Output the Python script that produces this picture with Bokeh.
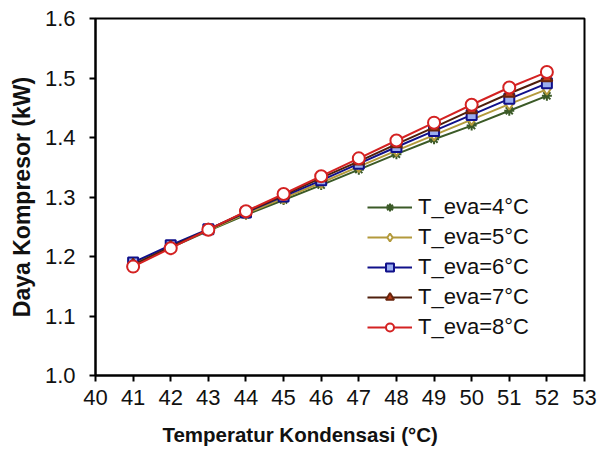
from bokeh.plotting import figure
from bokeh.models import Range1d, FixedTicker, PrintfTickFormatter, Legend
from bokeh.embed import file_html
from bokeh.resources import INLINE

t_kond = [41, 42, 43, 44, 45, 46, 47, 48, 49, 50, 51, 52]
eva4 = [1.188, 1.215, 1.243, 1.270, 1.295, 1.320, 1.346, 1.372, 1.397, 1.420, 1.445, 1.470]
eva5 = [1.188, 1.217, 1.244, 1.272, 1.298, 1.324, 1.351, 1.378, 1.404, 1.430, 1.456, 1.481]
eva6 = [1.190, 1.219, 1.246, 1.274, 1.301, 1.328, 1.356, 1.384, 1.411, 1.438, 1.465, 1.491]
eva7 = [1.186, 1.216, 1.245, 1.275, 1.303, 1.332, 1.360, 1.389, 1.417, 1.446, 1.474, 1.500]
eva8 = [1.183, 1.214, 1.245, 1.276, 1.305, 1.335, 1.365, 1.395, 1.425, 1.455, 1.484, 1.510]
labels = ["T_eva=4°C", "T_eva=5°C", "T_eva=6°C", "T_eva=7°C", "T_eva=8°C"]
x_ticks = list(range(40, 54))
y_ticks = [1.0, 1.1, 1.2, 1.3, 1.4, 1.5, 1.6]

FONT = "Liberation Sans"

p = figure(width=598, height=448, output_backend="svg", toolbar_location=None,
           x_range=Range1d(40, 53), y_range=Range1d(1.0, 1.6),
           min_border_left=95, min_border_right=14, min_border_top=18, min_border_bottom=73)
p.background_fill_color = "white"
p.border_fill_color = "white"
p.outline_line_color = "black"
p.outline_line_width = 2
p.xgrid.visible = False
p.ygrid.visible = False

for ax in (p.xaxis[0], p.yaxis[0]):
    ax.axis_line_width = 2
    ax.axis_line_color = "black"
    ax.major_tick_line_width = 2
    ax.major_tick_line_color = "black"
    ax.major_tick_out = 6
    ax.major_tick_in = 0
    ax.minor_tick_out = 0
    ax.minor_tick_in = 0
    ax.major_label_text_font = FONT
    ax.major_label_text_font_size = "22px"
    ax.major_label_text_color = "#111111"
    ax.axis_label_text_font = FONT
    ax.axis_label_text_font_style = "bold"
    ax.axis_label_text_color = "#111111"

p.xaxis.ticker = FixedTicker(ticks=x_ticks)
p.yaxis.ticker = FixedTicker(ticks=y_ticks)
p.yaxis.formatter = PrintfTickFormatter(format="%.1f")
p.yaxis.axis_label = "Daya Kompresor (kW)"
p.yaxis.axis_label_text_font_size = "23px"
p.xaxis.axis_label = "Temperatur Kondensasi  (°C)" + "\u00a0" * 13
p.xaxis.axis_label_text_font_size = "20.5px"
p.xaxis.major_label_standoff = 8
p.yaxis.major_label_standoff = 14
p.xaxis.axis_label_standoff = 15
p.yaxis.axis_label_standoff = 7

items = []
series = [eva4, eva5, eva6, eva7, eva8]
styles = [
    dict(line="#3b5a27", marker="asterisk", fill="#3b5a27", edge="#3b5a27", size=10),
    dict(line="#b39a3c", marker="diamond", fill="white", edge="#b39a3c", size=11),
    dict(line="#10108a", marker="square", fill="#9aaef0", edge="#10108a", size=10),
    dict(line="#4e1f0c", marker="triangle", fill="#c2401c", edge="#6a240c", size=11),
    dict(line="#d42222", marker="circle", fill="white", edge="#d42222", size=12),
]
for lab, ys, st in zip(labels, series, styles):
    r1 = p.line(t_kond, ys, line_color=st["line"], line_width=2)
    r2 = p.scatter(t_kond, ys, marker=st["marker"], size=st["size"],
                   fill_color=st["fill"], line_color=st["edge"], line_width=2)
    items.append((lab, [r1, r2]))

legend = Legend(items=items, location=(267, 30))
legend.label_text_font = FONT
legend.label_text_font_size = "22px"
legend.label_text_color = "#111111"
legend.glyph_width = 45
legend.glyph_height = 20
legend.label_height = 20
legend.spacing = 4
legend.padding = 5
legend.margin = 0
legend.label_standoff = 6
legend.border_line_alpha = 0
legend.background_fill_alpha = 0
p.add_layout(legend, "center")

open("out.html", "w").write(file_html(p, INLINE))
